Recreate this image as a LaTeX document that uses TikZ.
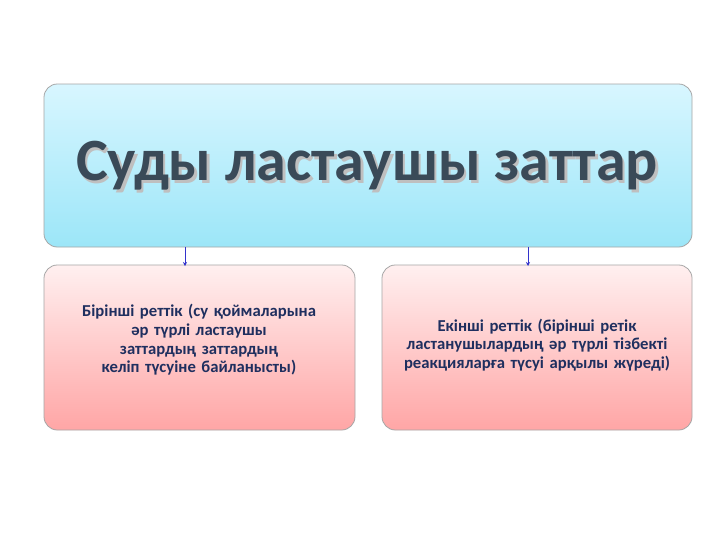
\documentclass[tikz,border=0pt]{standalone}
\usepackage{fontspec}
\setmainfont{Carlito}
\usetikzlibrary{arrows.meta}
\definecolor{ttl}{HTML}{3A4A58}
\definecolor{navy}{HTML}{1F2F5F}
\definecolor{cyt}{HTML}{D8F6FF}
\definecolor{cyb}{HTML}{9CE6F8}
\newcommand{\ttltext}{Суды ластаушы заттар}
\tikzset{
 topbox/.style={draw=gray!70,rounded corners=10pt,top color=cyt,bottom color=cyb,line width=0.6pt},
 subbox/.style={draw=gray!70,rounded corners=10pt,top color=red!6,bottom color=red!35,line width=0.6pt},
 conn/.style={draw=blue!60!gray,line width=0.6pt,-{Stealth[length=3pt,width=3pt]}},
 txt/.style={text=navy,font=\bfseries\fontsize{12.5}{14}\selectfont,align=center,text width=#1},
 txt/.default=205pt
}
\begin{document}
\begin{tikzpicture}[x=0.75pt,y=-0.75pt]
\useasboundingbox (0,0) rectangle (720,540);
\fill[white] (0,0) rectangle (720,540);
\path[topbox] (44,84) rectangle (692,247);
\path[subbox] (44,265) rectangle (355,430);
\path[subbox] (382,265) rectangle (692,430);
\node (title) at (367,167) {\bfseries\fontsize{45}{48}\selectfont\rlap{\kern2pt\raisebox{-2pt}{\textcolor{gray!50}{\ttltext}}}\textcolor{ttl}{\ttltext}};
\coordinate (a1) at (185,247); \coordinate (b1) at (185,266);
\coordinate (a2) at (528,247); \coordinate (b2) at (528,266);
\draw[conn] (a1) -- (b1);
\draw[conn] (a2) -- (b2);
\node[txt=200pt] (l) at (199,340) {Бірінші реттік (су қоймаларына әр түрлі ластаушы заттардың заттардың келіп түсуіне байланысты)};
\node[txt=215pt] (r) at (537,345) {Екінші реттік (бірінші ретік ластанушылардың әр түрлі тізбекті реакцияларға түсуі арқылы жүреді)};
\end{tikzpicture}
\end{document}
